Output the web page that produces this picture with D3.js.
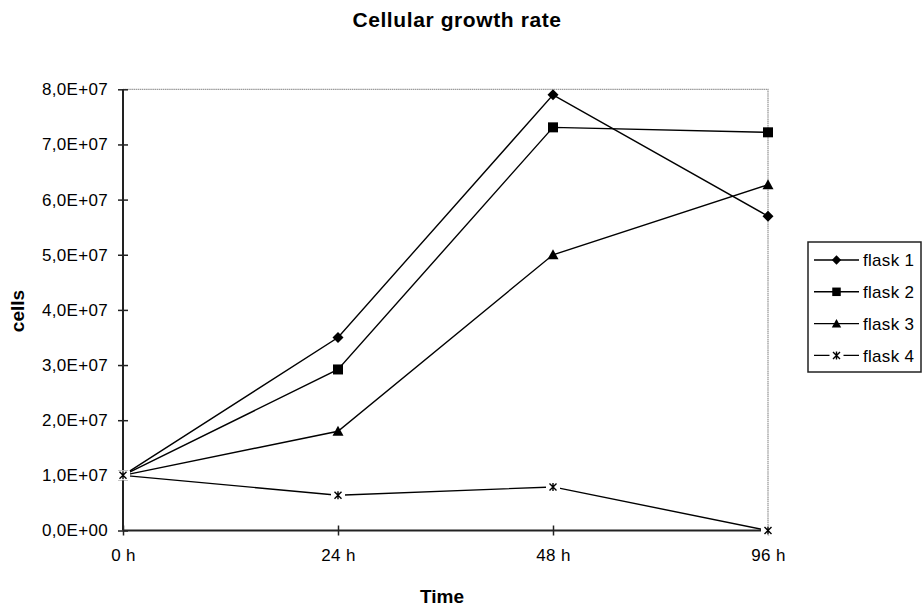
<!DOCTYPE html>
<html>
<head>
<meta charset="utf-8">
<script src="https://cdn.jsdelivr.net/npm/d3@7/dist/d3.min.js"></script>
<style>
  html, body { margin: 0; padding: 0; background: #fff; }
  svg { display: block; }
  text { font-family: "Liberation Sans", Arial, sans-serif; fill: #000; }
</style>
</head>
<body>
<svg id="chart" width="924" height="608"></svg>
<script>
// Time points (categorical axis)
const categories = ["0 h", "24 h", "48 h", "96 h"];

// Cell counts per flask
const flask1 = [1.0e7, 3.5e7, 7.9e7, 5.7e7];
const flask2 = [1.0e7, 2.92e7, 7.31e7, 7.22e7];
const flask3 = [1.0e7, 1.8e7, 5.0e7, 6.27e7];
const flask4 = [1.0e7, 0.64e7, 0.79e7, 0.0];

const seriesNames = ["flask 1", "flask 2", "flask 3", "flask 4"];
const markerTypes = ["diamond", "square", "triangle", "star"];
const yTicks = [0, 1e7, 2e7, 3e7, 4e7, 5e7, 6e7, 7e7, 8e7];

const series = [flask1, flask2, flask3, flask4].map((values, i) => ({
  name: seriesNames[i], marker: markerTypes[i], values
}));

const svg = d3.select("#chart");
const plotLeft = 123, plotRight = 768, plotTop = 89.3, plotBottom = 530.5;

const x = d3.scalePoint().domain(categories).range([plotLeft, plotRight]);
const y = d3.scaleLinear().domain([0, 8e7]).range([plotBottom, plotTop]);

// Scientific label with comma decimal, e.g. 8,0E+07
function sci(v) {
  if (v === 0) return "0,0E+00";
  const e = Math.floor(Math.log10(Math.abs(v)));
  const m = v / Math.pow(10, e);
  return m.toFixed(1).replace(".", ",") + "E+" + String(e).padStart(2, "0");
}

// Plot border (top and right)
svg.append("path")
  .attr("d", `M${plotLeft},${plotTop}H${plotRight}V${plotBottom}`)
  .attr("fill", "none").attr("stroke", "#9a9a9a").attr("stroke-width", 1.3)
  .attr("stroke-dasharray", "1.5,0.6");

// Y axis
const yAxis = svg.append("g").attr("transform", `translate(${plotLeft},0)`)
  .call(d3.axisLeft(y).tickValues(yTicks).tickFormat(sci).tickSize(5).tickPadding(10));
yAxis.select(".domain").remove();
yAxis.selectAll(".tick line").attr("x1", 5).attr("stroke", "#222").attr("stroke-width", 1.5);
yAxis.selectAll(".tick text").attr("font-size", 17).attr("letter-spacing", 0.3)
  .attr("font-family", "Liberation Sans, Arial, sans-serif").attr("fill", "#000");
svg.append("line").attr("x1", plotLeft).attr("x2", plotLeft).attr("y1", plotTop).attr("y2", plotBottom)
  .attr("stroke", "#222").attr("stroke-width", 2);

// X axis
const xAxis = svg.append("g").attr("transform", `translate(0,${plotBottom})`)
  .call(d3.axisBottom(x).tickSize(5).tickPadding(13));
xAxis.select(".domain").remove();
xAxis.selectAll(".tick line").attr("y1", -5).attr("stroke", "#222").attr("stroke-width", 1.5);
xAxis.selectAll(".tick text").attr("font-size", 17).attr("letter-spacing", 0.3)
  .attr("font-family", "Liberation Sans, Arial, sans-serif").attr("fill", "#000");
svg.append("line").attr("x1", plotLeft).attr("x2", plotRight).attr("y1", plotBottom).attr("y2", plotBottom)
  .attr("stroke", "#222").attr("stroke-width", 2);

// Marker drawing
function drawMarker(g, type, cx, cy, k = 1) {
  const r = 5.5 * k;
  if (type === "diamond") {
    g.append("path").attr("d", `M${cx},${cy - r}L${cx + r},${cy}L${cx},${cy + r}L${cx - r},${cy}Z`)
      .attr("fill", "#000");
  } else if (type === "square") {
    const h = 5 * k;
    g.append("rect").attr("x", cx - h).attr("y", cy - h).attr("width", 2 * h).attr("height", 2 * h)
      .attr("fill", "#000");
  } else if (type === "triangle") {
    g.append("path").attr("d", `M${cx},${cy - r}L${cx + r},${cy + 4.5 * k}L${cx - r},${cy + 4.5 * k}Z`)
      .attr("fill", "#000");
  } else if (type === "star") {
    g.append("rect").attr("x", cx - 7).attr("y", cy - 5).attr("width", 14).attr("height", 10)
      .attr("fill", "#fff");
    g.append("path")
      .attr("d", `M${cx - 3.5},${cy - 3.5}L${cx + 3.5},${cy + 3.5}M${cx + 3.5},${cy - 3.5}L${cx - 3.5},${cy + 3.5}M${cx},${cy - 4}V${cy + 4}`)
      .attr("stroke", "#000").attr("stroke-width", 1.4).attr("fill", "none");
  }
}

const line = d3.line().x((d, i) => x(categories[i])).y(d => y(d));

const plot = svg.append("g");
series.forEach(s => {
  plot.append("path").datum(s.values).attr("d", line)
    .attr("fill", "none").attr("stroke", "#000").attr("stroke-width", 1.4);
});
series.forEach(s => {
  const mg = plot.append("g");
  s.values.forEach((v, i) => drawMarker(mg, s.marker, x(categories[i]), y(v)));
});

// Titles
svg.append("text").attr("x", 457).attr("y", 27).attr("text-anchor", "middle")
  .attr("font-size", 21).attr("font-weight", "bold").attr("letter-spacing", 0.6)
  .text("Cellular growth rate");
svg.append("text").attr("x", 442).attr("y", 603).attr("text-anchor", "middle")
  .attr("font-size", 19).attr("font-weight", "bold")
  .text("Time");
svg.append("text").attr("transform", "translate(24,311) rotate(-90)").attr("text-anchor", "middle")
  .attr("font-size", 19).attr("font-weight", "bold")
  .text("cells");

// Legend
const lg = svg.append("g");
lg.append("rect").attr("x", 808).attr("y", 242).attr("width", 113).attr("height", 130)
  .attr("fill", "#fff").attr("stroke", "#222").attr("stroke-width", 1.5);
series.forEach((s, i) => {
  const ly = 260 + i * 31.8;
  lg.append("line").attr("x1", 814).attr("x2", 859).attr("y1", ly).attr("y2", ly)
    .attr("stroke", "#000").attr("stroke-width", 1.4);
  drawMarker(lg, s.marker, 836.5, ly, 0.85);
  lg.append("text").attr("x", 863).attr("y", ly).attr("dy", "0.36em")
    .attr("font-size", 17).attr("letter-spacing", 0.3).text(s.name);
});
</script>
</body>
</html>
